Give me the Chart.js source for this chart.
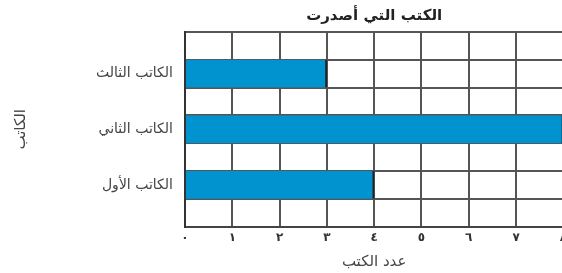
<!DOCTYPE html>
<html>
<head>
<meta charset="utf-8">
<script src="https://cdn.jsdelivr.net/npm/chart.js@4"></script>
<style>
  html, body { margin: 0; padding: 0; background: #fff; overflow: hidden; }
  #wrap { width: 571px; height: 273px; }
</style>
</head>
<body>
<div id="wrap"><canvas id="myChart" width="571" height="273"></canvas></div>
<script>
// rows of the grid, top to bottom (empty rows are spacer rows of the grid)
const authors = ['', 'الكاتب الثالث', '', 'الكاتب الثاني', '', 'الكاتب الأول', ''];
const books = [null, 3, null, 8, null, 4, null];
const tickLabels = ['٠', '١', '٢', '٣', '٤', '٥', '٦', '٧', '٨'];

const chartTitle = 'الكتب التي أصدرت';
const xTitle = 'عدد الكتب';
const yTitle = 'الكاتب';

const ctx = document.getElementById('myChart').getContext('2d');
Chart.defaults.font.family = '"DejaVu Sans", sans-serif';
Chart.defaults.color = '#444';

myChart = new Chart(ctx, {
    type: 'bar',
    data: {
        labels: authors,
        datasets: [{
            data: books,
            backgroundColor: '#0093d0',
            borderColor: '#222',
            borderWidth: { right: 2, top: 0, bottom: 0, left: 0 },
            borderSkipped: false,
            barPercentage: 1,
            categoryPercentage: 1
        }]
    },
    options: {
        indexAxis: 'y',
        responsive: false,
        animation: false,
        layout: { padding: { left: 0, right: 0, top: 2, bottom: 2 } },
        plugins: {
            legend: { display: false },
            tooltip: { enabled: false },
            title: {
                display: true,
                fullSize: false,
                text: chartTitle,
                color: '#222',
                font: { size: 15, weight: 'bold' },
                padding: { top: 5, bottom: 7 }
            }
        },
        scales: {
            x: {
                min: 0,
                max: 8,
                ticks: {
                    stepSize: 1,
                    color: '#333',
                    font: { size: 12, weight: 'bold' },
                    padding: 4,
                    callback: (v) => tickLabels[v]
                },
                grid: { color: '#555', lineWidth: 2, drawTicks: false },
                border: { color: '#444', width: 2 },
                title: {
                    display: true,
                    text: xTitle,
                    color: '#444',
                    font: { size: 15 },
                    padding: { top: 4, bottom: 0 }
                }
            },
            y: {
                ticks: { color: '#444', font: { size: 14 }, padding: 12 },
                grid: { color: '#555', lineWidth: 2, drawTicks: false },
                border: { color: '#333', width: 2 },
                title: {
                    display: true,
                    text: yTitle,
                    color: '#444',
                    font: { size: 15 },
                    padding: { top: 12, bottom: 0 }
                },
                afterFit: (scale) => { scale.width = 185; }
            }
        }
    }
});
</script>
</body>
</html>
